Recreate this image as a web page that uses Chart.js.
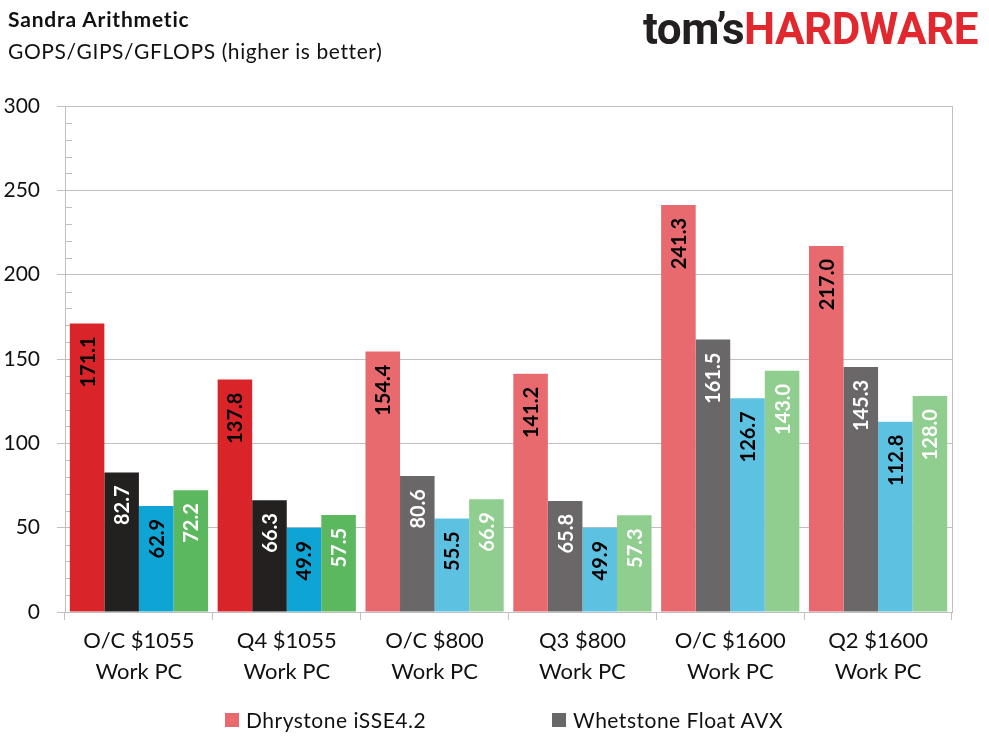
<!DOCTYPE html>
<html><head><meta charset="utf-8">
<script src="https://cdn.jsdelivr.net/npm/chart.js@4.4.0/dist/chart.umd.min.js"></script>
<style>
html,body{margin:0;padding:0;background:#fff;width:989px;height:742px;overflow:hidden;font-family:Lato,'Open Sans',sans-serif;}
#wrap{position:relative;width:989px;height:742px;}
#c{position:absolute;left:0;top:0;}
.t{position:absolute;white-space:nowrap;color:#111;line-height:1;}
.sq{position:absolute;width:14px;height:14px;}
</style></head><body>
<div id="wrap">
<canvas id="c" width="989" height="742"></canvas>
<div class="t" style="left:8px;top:8px;font-weight:700;font-size:21px;letter-spacing:0.8px;">Sandra Arithmetic</div>
<div class="t" style="left:8px;top:40px;font-size:21px;letter-spacing:0.6px;">GOPS/GIPS/GFLOPS (higher is better)</div>
<div class="t" style="left:643px;top:7px;font-family:Roboto,sans-serif;font-weight:700;font-size:44px;letter-spacing:-0.5px;"><span style="color:#231f20">tom’s</span><span style="color:#e0282e">HARDWARE</span></div>
<div class="sq" style="left:225px;top:713px;background:#E86A6E"></div>
<div class="t" style="left:246px;top:709px;font-size:21px;letter-spacing:0.5px;">Dhrystone iSSE4.2</div>
<div class="sq" style="left:552px;top:713px;background:#696767"></div>
<div class="t" style="left:573px;top:709px;font-size:21px;letter-spacing:0.5px;">Whetstone Float AVX</div>
</div>
<script>
const categories = [
  ['O/C $1055','Work PC'], ['Q4 $1055','Work PC'], ['O/C $800','Work PC'],
  ['Q3 $800','Work PC'], ['O/C $1600','Work PC'], ['Q2 $1600','Work PC']
];
const seriesNames = ['Dhrystone iSSE4.2','Whetstone Float AVX','Dhrystone Long iSSE4.2','Whetstone Double AVX'];
const dhrystone   = [171.1, 137.8, 154.4, 141.2, 241.3, 217.0];
const whetstone   = [82.7, 66.3, 80.6, 65.8, 161.5, 145.3];
const series3     = [62.9, 49.9, 55.5, 49.9, 126.7, 112.8];
const series4     = [72.2, 57.5, 66.9, 57.3, 143.0, 128.0];
const yTicks = [0, 50, 100, 150, 200, 250, 300];

const strongColors = ['#D9252A','#222120','#0EA5D4','#5CB85F'];
const lightColors  = ['#E86A6E','#696767','#5DC2E1','#8FCE8F'];
const labelColors  = ['#000','#fff','#000','#fff'];
const strongGroups = 2;

const seriesData = [dhrystone, whetstone, series3, series4];
const datasets = seriesData.map((d, i) => ({
  label: seriesNames[i],
  data: d,
  backgroundColor: d.map((v, j) => j < strongGroups ? strongColors[i] : lightColors[i]),
  borderWidth: 0,
  categoryPercentage: 0.935,
  barPercentage: 1.0
}));

const FONT = 'Lato, "Open Sans", sans-serif';

const extras = {
  id: 'extras',
  beforeDatasetsDraw(chart) {
    const ctx = chart.ctx, y = chart.scales.y, a = chart.chartArea;
    ctx.save();
    ctx.strokeStyle = '#BFBFBF';
    ctx.lineWidth = 1;
    for (let v = 10; v < 300; v += 10) {
      if (v % 50 === 0) continue;
      const py = Math.round(y.getPixelForValue(v)) + 0.5;
      ctx.beginPath(); ctx.moveTo(a.left, py); ctx.lineTo(a.left + 7, py); ctx.stroke();
    }
    ctx.beginPath();
    ctx.moveTo(Math.round(a.right) + 0.5, a.top);
    ctx.lineTo(Math.round(a.right) + 0.5, a.bottom);
    ctx.stroke();
    ctx.restore();
  },
  afterDatasetsDraw(chart) {
    const ctx = chart.ctx;
    ctx.save();
    ctx.font = 'bold 20px ' + FONT;
    ctx.textAlign = 'right';
    ctx.textBaseline = 'middle';
    chart.data.datasets.forEach((ds, i) => {
      const meta = chart.getDatasetMeta(i);
      meta.data.forEach((el, j) => {
        ctx.save();
        ctx.translate(el.x, el.y + 13);
        ctx.rotate(-Math.PI / 2);
        ctx.fillStyle = labelColors[i];
        ctx.fillText(ds.data[j].toFixed(1), 0, 1);
        ctx.restore();
      });
    });
    ctx.restore();
  }
};

new Chart(document.getElementById('c'), {
  type: 'bar',
  data: { labels: categories, datasets },
  options: {
    responsive: false,
    animation: false,
    devicePixelRatio: 1,
    layout: { padding: { left: 0, top: 106, right: 37, bottom: 0 } },
    plugins: { legend: { display: false }, tooltip: { enabled: false } },
    scales: {
      x: {
        afterFit(s) { s.height = 130; },
        grid: { offset: true, drawOnChartArea: false, drawTicks: true, tickLength: 8, color: '#BFBFBF' },
        border: { display: true, color: '#BFBFBF' },
        ticks: { color: '#111', font: { family: FONT, size: 22, lineHeight: 1.42 }, padding: 5, maxRotation: 0, autoSkip: false }
      },
      y: {
        min: 0, max: 300,
        afterFit(s) { s.width = 65; },
        afterBuildTicks(s) { s.ticks = yTicks.map(v => ({ value: v })); },
        grid: { color: '#BFBFBF', tickLength: 8, drawTicks: true },
        border: { display: true, color: '#BFBFBF' },
        ticks: { color: '#111', font: { family: FONT, size: 21 }, padding: 17 }
      }
    }
  },
  plugins: [extras]
});
</script>
</body></html>
